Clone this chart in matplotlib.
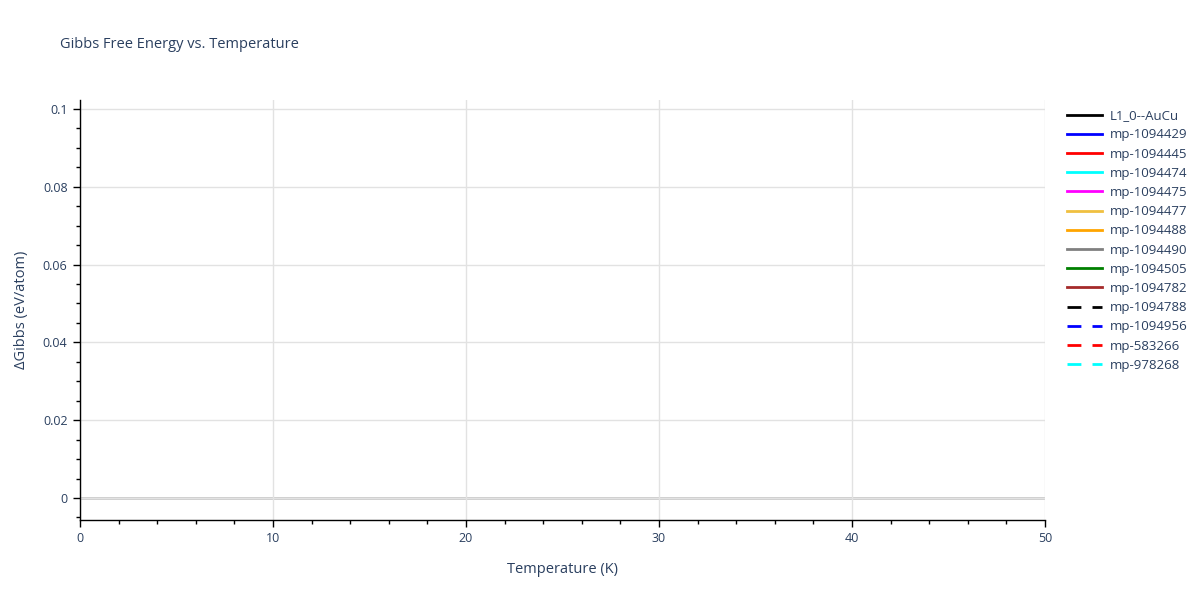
import numpy as np
import matplotlib.pyplot as plt
from matplotlib.ticker import MultipleLocator

plt.rcParams['font.family'] = ['Open Sans', 'DejaVu Sans']

# Traces listed in the legend; none of them has points inside the shown range
names = ["L1_0--AuCu", "mp-1094429", "mp-1094445", "mp-1094474", "mp-1094475",
         "mp-1094477", "mp-1094488", "mp-1094490", "mp-1094505", "mp-1094782",
         "mp-1094788", "mp-1094956", "mp-583266", "mp-978268"]
colors = ["black", "blue", "red", "cyan", "magenta", "#f0c040", "orange", "gray",
          "green", "brown", "black", "blue", "red", "cyan"]
styles = ["-"] * 10 + [(0, (5, 4))] * 4
temperature = []
dgibbs = []

x_range = (0, 50)
y_range = (-0.00566, 0.1023)

txt = "#2a3f5f"

fig = plt.figure(figsize=(12, 6), dpi=100)
ax = fig.add_axes([80 / 1200, 80 / 600, (1045 - 80) / 1200, (520 - 100) / 600])

handles = []
for name, c, ls in zip(names, colors, styles):
    h, = ax.plot(temperature, dgibbs, color=c, linestyle=ls, linewidth=2, label=name)
    handles.append(h)

ax.set_xlim(*x_range)
ax.set_ylim(*y_range)
ax.xaxis.set_major_locator(MultipleLocator(10))
ax.xaxis.set_minor_locator(MultipleLocator(2))
ax.yaxis.set_major_locator(MultipleLocator(0.02))
ax.yaxis.set_minor_locator(MultipleLocator(0.005))
ax.yaxis.set_major_formatter(plt.FuncFormatter(lambda v, p: "0" if abs(v) < 1e-12 else f"{v:g}"))

ax.grid(True, which="major", color="#e2e2e2", linewidth=1)
ax.axhline(0, color="#c8c8c8", linewidth=2, zorder=1)
for s in ["top", "right"]:
    ax.spines[s].set_visible(False)
for s in ["left", "bottom"]:
    ax.spines[s].set_color("black")
    ax.spines[s].set_linewidth(1)

ax.tick_params(which="major", length=5, width=1, color="black", labelcolor=txt, labelsize=9, pad=4)
ax.tick_params(which="minor", length=3, width=1, color="black")

ax.set_xlabel("Temperature (K)", color=txt, fontsize=10.5, labelpad=12)
ax.set_ylabel("ΔGibbs (eV/atom)", color=txt, fontsize=10.5, labelpad=10)
fig.text(60 / 1200, 1 - 45 / 600, "Gibbs Free Energy vs. Temperature", color=txt,
         fontsize=10.5, va="center", ha="left")

leg = fig.legend(handles=handles, loc="upper left", bbox_to_anchor=(1062 / 1200, 1 - 104 / 600),
                 frameon=False, fontsize=9.5, handlelength=2.6, labelspacing=0.47,
                 handletextpad=0.6, borderaxespad=0)
for t in leg.get_texts():
    t.set_color(txt)

fig.savefig("out.png", dpi=100)
